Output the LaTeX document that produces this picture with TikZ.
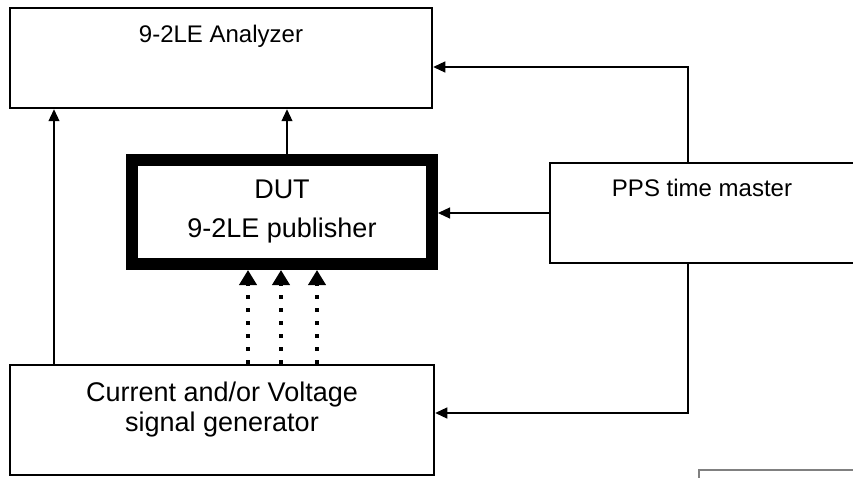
\documentclass[tikz,border=0pt]{standalone}
\usepackage{fontspec}
\setmainfont{Liberation Sans}
\usetikzlibrary{arrows.meta}
\begin{document}
\begin{tikzpicture}[x=1pt,y=-1pt,
  box/.style={draw, line width=2.5pt, inner sep=0pt, fill=none},
  lbl/.style={inner sep=0pt, font=\fontsize{24}{28}\selectfont},
  big/.style={inner sep=0pt, align=center, font=\fontsize{27}{30}\selectfont},
  arr/.style={line width=1.2pt, -{Triangle[length=12pt,width=11pt]}},
  dotline/.style={line width=4pt, dash pattern=on 4pt off 9pt},
  dothead/.style={-{Triangle[length=15pt 0,width=17pt 0]}, line width=4pt, shorten <=80pt}
]
\clip (0,0) rectangle (853,478);
% coordinates for connector positions
\coordinate (xa) at (54,0);
\coordinate (xb) at (287,0);
\coordinate (xr) at (688,0);
\coordinate (xd1) at (248,0);
\coordinate (xd2) at (281,0);
\coordinate (xd3) at (317,0);
\coordinate (ya) at (0,67);
\coordinate (yg) at (0,413);
\coordinate (yh) at (0,284);
% boxes
\node[box, minimum width=422pt, minimum height=100pt] (ana) at (221,58) {};
\node[lbl] (anat) at (221,36) {9-2LE Analyzer};
\node[box, line width=12pt, minimum width=300pt, minimum height=104pt, align=center,
      font=\fontsize{27}{39}\selectfont] (dut) at (282,212) {DUT\\9-2LE publisher};
\node[box, minimum width=306pt, minimum height=100pt] (pps) at (703,213) {};
\node[lbl] (ppst) at (702,188) {PPS time master};
\node[box, minimum width=424pt, minimum height=110pt] (gen) at (222,420) {};
\node[big] (gent) at (222,410) {Current and/or Voltage\\signal generator};
% connectors
\draw[arr] (xa |- gen.north) -- (xa |- ana.south);
\draw[arr] (xb |- dut.north) -- (xb |- ana.south);
\draw[arr] (pps.north -| xr) -- (xr |- ya) -- (ana.east |- ya);
\draw[arr] (pps.west) -- (dut.east |- pps.west);
\draw[arr] (pps.south -| xr) -- (xr |- yg) -- (gen.east |- yg);
\foreach \d in {xd1,xd2,xd3}{
  \draw[dotline] (\d |- gen.north) -- (\d |- yh);
  \draw[dothead] (\d |- gen.north) -- (\d |- dut.south);
}
% fragment at bottom right
\draw[gray, line width=2pt] (699,482) -- (699,470) -- (860,470);
\end{tikzpicture}
\end{document}
